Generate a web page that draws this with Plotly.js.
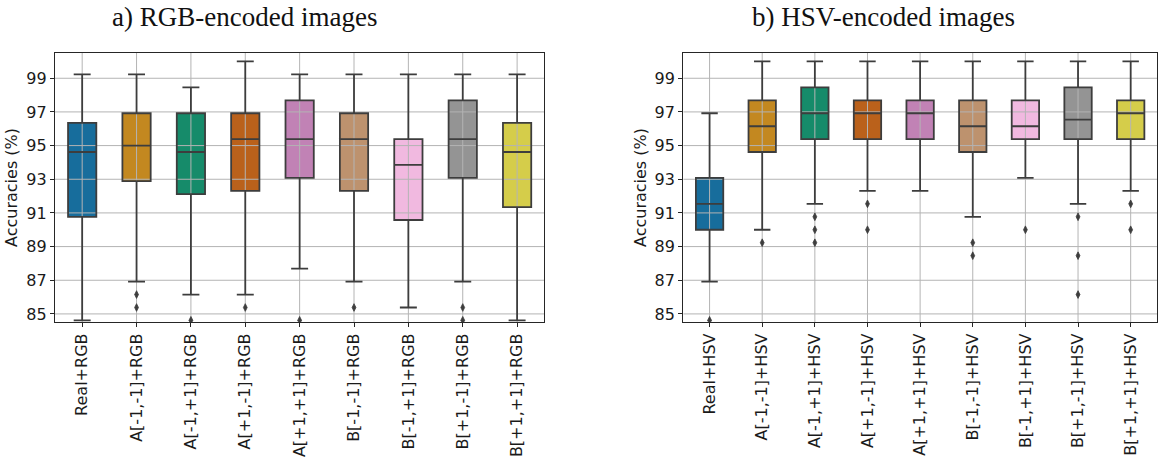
<!DOCTYPE html>
<html>
<head>
<meta charset="utf-8">
<script src="https://cdn.plot.ly/plotly-3.0.1.min.js"></script>
<style>html,body{margin:0;padding:0;background:#fff;}#chart{width:1158px;height:457px;}</style>
</head>
<body>
<div id="chart"></div>
<script>
// ---------- data ----------
const rgbCategories = ["Real+RGB","A[-1,-1]+RGB","A[-1,+1]+RGB","A[+1,-1]+RGB","A[+1,+1]+RGB","B[-1,-1]+RGB","B[-1,+1]+RGB","B[+1,-1]+RGB","B[+1,+1]+RGB"];
const rgbUpper  = [99.23, 99.23, 98.46, 100.0, 99.23, 99.23, 99.23, 99.23, 99.23];
const rgbQ3     = [96.35, 96.92, 96.92, 96.92, 97.69, 96.92, 95.38, 97.69, 96.35];
const rgbMedian = [94.62, 95.00, 94.62, 95.38, 95.38, 95.38, 93.85, 95.38, 94.62];
const rgbQ1     = [90.77, 92.89, 92.12, 92.31, 93.08, 92.31, 90.58, 93.08, 91.35];
const rgbLower  = [84.62, 86.92, 86.15, 86.15, 87.69, 86.92, 85.38, 86.92, 84.62];
const rgbOutliers = [[], [86.15, 85.38], [84.62], [85.38], [84.62], [85.38], [], [85.38, 84.62], []];

const hsvCategories = ["Real+HSV","A[-1,-1]+HSV","A[-1,+1]+HSV","A[+1,-1]+HSV","A[+1,+1]+HSV","B[-1,-1]+HSV","B[-1,+1]+HSV","B[+1,-1]+HSV","B[+1,+1]+HSV"];
const hsvUpper  = [96.92, 100.0, 100.0, 100.0, 100.0, 100.0, 100.0, 100.0, 100.0];
const hsvQ3     = [93.08, 97.69, 98.46, 97.69, 97.69, 97.69, 97.69, 98.46, 97.69];
const hsvMedian = [91.54, 96.15, 96.92, 96.92, 96.92, 96.15, 96.15, 96.54, 96.92];
const hsvQ1     = [90.00, 94.62, 95.38, 95.38, 95.38, 94.62, 95.38, 95.38, 95.38];
const hsvLower  = [86.92, 90.00, 91.54, 92.31, 92.31, 90.77, 93.08, 91.54, 92.31];
const hsvOutliers = [[84.62], [89.23], [90.77, 90.00, 89.23], [91.54, 90.00], [], [89.23, 88.46], [90.00], [90.77, 88.46, 86.15], [91.54, 90.00]];

const yTickValues = [85, 87, 89, 91, 93, 95, 97, 99];
const panelTitles = ["a) RGB-encoded images", "b) HSV-encoded images"];
const yTitle = "Accuracies (%)";

// ---------- styles ----------
const boxColors = ["#176d9c","#c38820","#168b6a","#ba611b","#c182b5","#bd926e","#f1b9e0","#949494","#d5cd4a"];
const edge = "#3d3d3d";
const gridColor = "#b4b4b4";
const frameColor = "#262626";
const yRange = [84.52, 100.5];
const xRange = [-0.5, 8.5];
const boxWidth = 0.52;

const traces = [];
function addPanel(cats, upper, q3, med, q1, lower, outliers, xa, ya, xo, yo) {
  const idx = cats.map((c, i) => i);
  // box fills (below grid)
  idx.forEach(i => {
    traces.push({
      type: "box", xaxis: xa, yaxis: ya,
      x: [idx[i]], q1: [q1[i]], median: [med[i]], q3: [q3[i]],
      lowerfence: [q3[i]], upperfence: [q3[i]],
      width: boxWidth, fillcolor: boxColors[i],
      line: {color: "rgba(0,0,0,0)", width: 0}, whiskerwidth: 0,
      boxpoints: false, hoverinfo: "skip", showlegend: false
    });
  });
  // grid lines (above box fills)
  const gx = [], gy = [];
  yTickValues.forEach(v => { gx.push(xRange[0], xRange[1], null); gy.push(v, v, null); });
  idx.forEach(i => { gx.push(i, i, null); gy.push(yRange[0], yRange[1], null); });
  traces.push({type: "scatter", mode: "lines", xaxis: xa, yaxis: ya, x: gx, y: gy,
    line: {color: gridColor, width: 1}, hoverinfo: "skip", showlegend: false, cliponaxis: true});
  // box outlines / whiskers / medians (overlay, above grid)
  traces.push({
    type: "box", xaxis: xo, yaxis: yo,
    x: idx, q1: q1, median: med, q3: q3, lowerfence: lower, upperfence: upper,
    width: boxWidth, fillcolor: "rgba(0,0,0,0)",
    line: {color: edge, width: 1.8}, whiskerwidth: 0.6,
    boxpoints: false, hoverinfo: "skip", showlegend: false
  });
  // outliers
  const ox = [], oy = [];
  outliers.forEach((arr, i) => arr.forEach(v => { ox.push(i); oy.push(v); }));
  traces.push({type: "scatter", mode: "markers", xaxis: xo, yaxis: yo, x: ox, y: oy,
    marker: {symbol: "diamond-tall", size: 5.5, color: edge, line: {color: edge, width: 0.8}},
    hoverinfo: "skip", showlegend: false, cliponaxis: true});
}
addPanel(rgbCategories, rgbUpper, rgbQ3, rgbMedian, rgbQ1, rgbLower, rgbOutliers, "x", "y", "x3", "y3");
addPanel(hsvCategories, hsvUpper, hsvQ3, hsvMedian, hsvQ1, hsvLower, hsvOutliers, "x2", "y2", "x4", "y4");

const tickFont = {family: "'DejaVu Sans', sans-serif", size: 16, color: "#1a1a1a"};
function xAxis(domain, cats) {
  return {domain: domain, range: xRange, type: "linear", tickmode: "array",
    tickvals: cats.map((c, i) => i), ticktext: cats, tickangle: -90,
    ticks: "outside", ticklen: 4, tickwidth: 1, tickcolor: frameColor,
    showgrid: false, zeroline: false, showline: true, mirror: true,
    linecolor: frameColor, linewidth: 1.1, tickfont: tickFont, fixedrange: true};
}
function yAxis(anchor) {
  return {anchor: anchor, range: yRange, tickmode: "array", tickvals: yTickValues,
    ticks: "outside", ticklen: 4, tickwidth: 1, tickcolor: frameColor,
    showgrid: false, zeroline: false, showline: true, mirror: true,
    linecolor: frameColor, linewidth: 1.1, tickfont: tickFont,
    title: {text: yTitle, font: {family: "'DejaVu Sans', sans-serif", size: 16, color: "#1a1a1a"}, standoff: 4},
    fixedrange: true};
}
function hidden(over, extra) {
  return Object.assign({overlaying: over, visible: false, fixedrange: true}, extra);
}

const layout = {
  width: 1158, height: 457,
  margin: {l: 55, r: 1, t: 53, b: 135},
  paper_bgcolor: "#ffffff", plot_bgcolor: "#ffffff",
  boxmode: "overlay", showlegend: false,
  xaxis: xAxis([0, 0.4440], rgbCategories),
  yaxis: yAxis("x"),
  xaxis2: xAxis([0.5701, 1.0], hsvCategories),
  yaxis2: yAxis("x2"),
  xaxis3: hidden("x", {range: xRange, anchor: "y3"}),
  yaxis3: hidden("y", {range: yRange, anchor: "x3"}),
  xaxis4: hidden("x2", {range: xRange, anchor: "y4"}),
  yaxis4: hidden("y2", {range: yRange, anchor: "x4"}),
  annotations: [
    {text: panelTitles[0], xref: "paper", yref: "paper", x: 0.1724, y: 1.135,
     xanchor: "center", yanchor: "middle", showarrow: false,
     font: {family: "Liberation Serif", size: 27, color: "#111"}},
    {text: panelTitles[1], xref: "paper", yref: "paper", x: 0.7514, y: 1.135,
     xanchor: "center", yanchor: "middle", showarrow: false,
     font: {family: "Liberation Serif", size: 27, color: "#111"}}
  ]
};
Plotly.newPlot("chart", traces, layout, {staticPlot: true, displayModeBar: false});
</script>
</body>
</html>
